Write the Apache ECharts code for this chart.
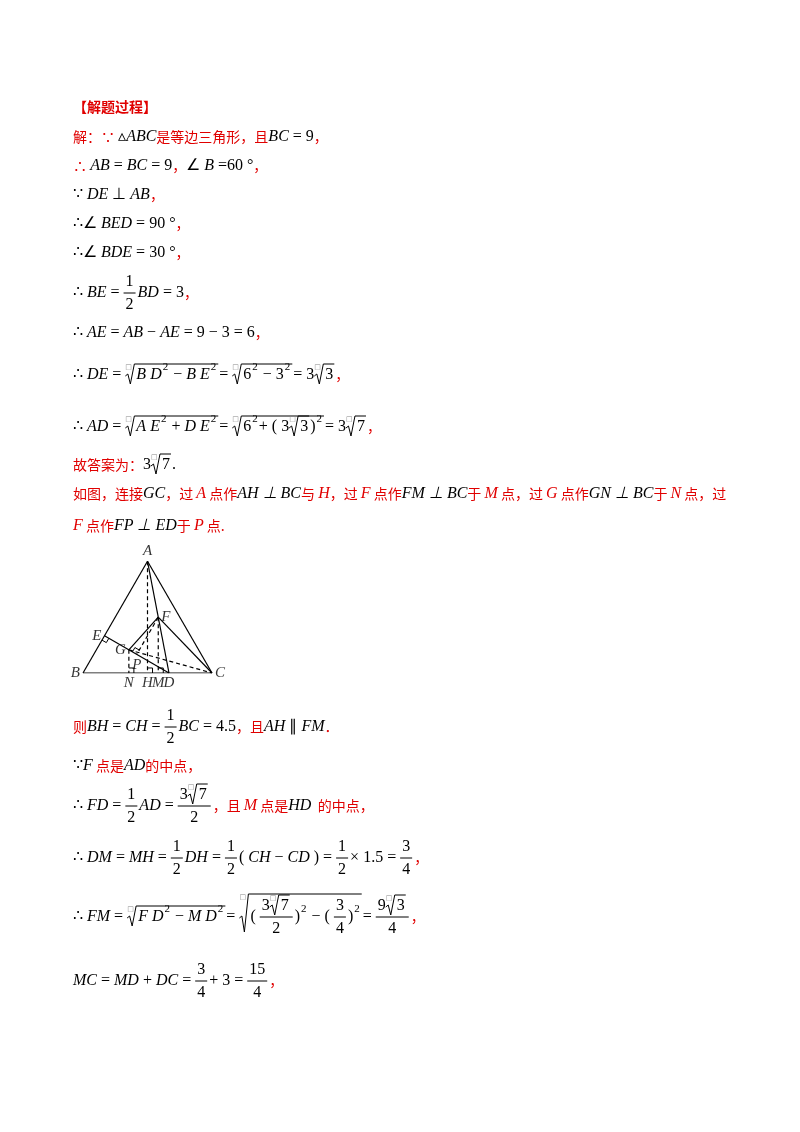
<!DOCTYPE html>
<html><head><meta charset="utf-8">
<script src="https://cdn.jsdelivr.net/npm/echarts@6/dist/echarts.min.js"></script>
<style>html,body{margin:0;background:#fff}#c{width:800px;height:1132px}</style>
</head><body><div id="c"></div>
<script>
// geometry data (units: side of triangle = 9)
const pointNames = ['A','B','C','D','E','F','G','H','M','N','P'];
const pointX = [4.5, 0, 9, 6, 1.5, 5.25, 3.2, 4.5, 5.25, 3.2, 3.75];
const pointY = [7.794, 0, 0, 0, 2.598, 3.897, 1.617, 0, 0, 0, 1.299];
const labelPos = ['top','left','right','bottom','left','right','left','bottom','bottom','bottom','bottom'];
const solidSegs = [['A','B'],['B','C'],['C','A'],['E','D'],['A','D'],['F','C'],['F','G']];
const dashedSegs = [['A','H'],['F','M'],['G','C'],['G','N'],['F','P']];
const rightAngles = [['E','D','B'],['N','G','C'],['H','A','C'],['M','F','C'],['P','F','E']];

const P = {}; pointNames.forEach((n,i)=>P[n]=[pointX[i],pointY[i]]);
const series = [];
function seg(a,b,type){series.push({type:'line',data:[P[a],P[b]],symbol:'none',silent:true,
  lineStyle:{color:'#000',width:1.2,type:type}});}
solidSegs.forEach(s=>seg(s[0],s[1],'solid'));
dashedSegs.forEach(s=>seg(s[0],s[1],[4,3]));
rightAngles.forEach(([v,a,b])=>{
  const V=P[v],s=0.35;
  const u=[P[a][0]-V[0],P[a][1]-V[1]],w=[P[b][0]-V[0],P[b][1]-V[1]];
  const lu=Math.hypot(...u),lw=Math.hypot(...w);
  const U=[u[0]/lu*s,u[1]/lu*s],W=[w[0]/lw*s,w[1]/lw*s];
  series.push({type:'line',symbol:'none',silent:true,lineStyle:{color:'#000',width:1},
    data:[[V[0]+U[0],V[1]+U[1]],[V[0]+U[0]+W[0],V[1]+U[1]+W[1]],[V[0]+W[0],V[1]+W[1]]]});
});
series.push({type:'scatter',symbolSize:0,data:pointNames.map((n,i)=>({value:[pointX[i],pointY[i]],name:n,
  label:{show:true,position:labelPos[i],formatter:n,distance:3,fontFamily:'Liberation Serif',fontStyle:'italic',fontSize:15,color:'#000'}}))});

// text layout
const ctx=document.createElement('canvas').getContext('2d');
const ST={
  m:{font:'italic 16px "Liberation Serif"',fill:'#000'},
  n:{font:'16px "Liberation Serif"',fill:'#000'},
  c:{font:'14px "Noto Sans CJK SC"',fill:'#e00000'},
  r:{font:'italic 16px "Liberation Serif"',fill:'#e00000'},
  b:{font:'bold 14px "Noto Sans CJK SC"',fill:'#e00000'},
  s:{font:'11px "Liberation Serif"',fill:'#000'}
};
const G=[];
function tw(st,t){ctx.font=ST[st].font;return ctx.measureText(t).width;}
function layout(items,x,y,draw){
  let cx=x;
  for(const it of items){
    if(Array.isArray(it)){
      const [st,t]=it;
      if(draw)G.push({type:'text',x:cx,y:y,style:{text:t,font:ST[st].font,fill:ST[st].fill,verticalAlign:'middle'}});
      cx+=tw(st,t);
    }else if(it.sup){
      if(draw)G.push({type:'text',x:cx+1,y:y-8,style:{text:it.sup,font:ST.s.font,fill:'#000',verticalAlign:'middle'}});
      cx+=tw('s',it.sup)+2;
    }else if(it.f){
      const wa=layout(it.f[0],0,0,false),wb=layout(it.f[1],0,0,false),W=Math.max(wa,wb)+4;
      if(draw){
        layout(it.f[0],cx+(W-wa)/2,y-11,true);layout(it.f[1],cx+(W-wb)/2,y+12,true);
        G.push({type:'line',shape:{x1:cx,y1:y,x2:cx+W,y2:y},style:{stroke:'#000',lineWidth:1}});
      }
      cx+=W+2;
    }else if(it.s){
      const tall=it.tall||0,wc=layout(it.s,0,0,false);
      const top=y-11-tall,bot=y+9+(tall?tall-6:0);
      if(draw){
        G.push({type:'text',x:cx,y:top+3,style:{text:'□',font:'7px "DejaVu Sans"',fill:'#888',verticalAlign:'middle'}});
        G.push({type:'polyline',shape:{points:[[cx,y+1],[cx+2.5,y-1],[cx+5,bot],[cx+9,top],[cx+12+wc,top]]},style:{stroke:'#000',lineWidth:1,fill:null}});
        layout(it.s,cx+11,y,true);
      }
      cx+=wc+13;
    }
  }
  return cx-x;
}
function L(y,items){layout(items,73,y,true);}
const half={f:[[['n','1']],[['n','2']]]};
L(107,[['b','【解题过程】']]);
L(137,[['c','解：∵ '],['n','▵'],['m','ABC'],['c','是等边三角形，且'],['m','BC'],['n',' = 9'],['c','，']]);
L(166,[['c','∴ '],['m','AB'],['n',' = '],['m','BC'],['n',' = 9'],['c','，'],['n','∠ '],['m','B'],['n',' =60 °'],['c','，']]);
L(195,[['n','∵ '],['m','DE'],['n',' ⊥ '],['m','AB'],['c','，']]);
L(224,[['n','∴∠ '],['m','BED'],['n',' = 90 °'],['c','，']]);
L(253,[['n','∴∠ '],['m','BDE'],['n',' = 30 °'],['c','，']]);
L(293,[['n','∴ '],['m','BE'],['n',' = '],half,['m','BD'],['n',' = 3'],['c','，']]);
L(333,[['n','∴ '],['m','AE'],['n',' = '],['m','AB'],['n',' − '],['m','AE'],['n',' = 9 − 3 = 6'],['c','，']]);
L(375,[['n','∴ '],['m','DE'],['n',' = '],{s:[['m','B D'],{sup:'2'},['n',' − '],['m','B E'],{sup:'2'}]},['n','= '],{s:[['n','6'],{sup:'2'},['n',' − 3'],{sup:'2'}]},['n','= 3'],{s:[['n','3']]},['c','，']]);
L(427,[['n','∴ '],['m','AD'],['n',' = '],{s:[['m','A E'],{sup:'2'},['n',' + '],['m','D E'],{sup:'2'}]},['n','= '],{s:[['n','6'],{sup:'2'},['n','+ ( 3'],{s:[['n','3']]},['n',')'],{sup:'2'}]},['n','= 3'],{s:[['n','7']]},['c','，']]);
L(465,[['c','故答案为：'],['n','3'],{s:[['n','7']]},['n','.']]);
L(494,[['c','如图，连接'],['m','GC'],['c','，过 '],['r','A'],['c',' 点作'],['m','AH ⊥ BC'],['c','与 '],['r','H'],['c','，过 '],['r','F'],['c',' 点作'],['m','FM ⊥ BC'],['c','于 '],['r','M'],['c',' 点，过 '],['r','G'],['c',' 点作'],['m','GN ⊥ BC'],['c','于 '],['r','N'],['c',' 点，过']]);
L(526,[['r','F'],['c',' 点作'],['m','FP ⊥ ED'],['c','于 '],['r','P'],['c',' 点.']]);
L(727,[['c','则'],['m','BH'],['n',' = '],['m','CH'],['n',' = '],half,['m','BC'],['n',' = 4.5'],['c','，且'],['m','AH'],['n',' ∥ '],['m','FM'],['c','．']]);
L(766,[['n','∵'],['m','F'],['c',' 点是'],['m','AD'],['c','的中点，']]);
L(806,[['n','∴ '],['m','FD'],['n',' = '],half,['m','AD'],['n',' = '],{f:[[['n','3'],{s:[['n','7']]}],[['n','2']]]},['c','，且 '],['r','M'],['c',' 点是'],['m','HD'],['c','  的中点，']]);
L(858,[['n','∴ '],['m','DM'],['n',' = '],['m','MH'],['n',' = '],half,['m','DH'],['n',' = '],half,['n','( '],['m','CH'],['n',' − '],['m','CD'],['n',' ) = '],half,['n','× 1.5 = '],{f:[[['n','3']],[['n','4']]]},['c','，']]);
L(917,[['n','∴ '],['m','FM'],['n',' = '],{s:[['m','F D'],{sup:'2'},['n',' − '],['m','M D'],{sup:'2'}]},['n','= '],{tall:12,s:[['n','( '],{f:[[['n','3'],{s:[['n','7']]}],[['n','2']]]},['n',')'],{sup:'2'},['n',' − ( '],{f:[[['n','3']],[['n','4']]]},['n',')'],{sup:'2'}]},['n','= '],{f:[[['n','9'],{s:[['n','3']]}],[['n','4']]]},['c','，']]);
L(981,[['m','MC'],['n',' = '],['m','MD'],['n',' + '],['m','DC'],['n',' = '],{f:[[['n','3']],[['n','4']]]},['n','+ 3 = '],{f:[[['n','15']],[['n','4']]]},['c','，']]);

const chart=echarts.init(document.getElementById('c'));
chart.setOption({
  animation:false,
  grid:{left:83,top:561.3,width:129,height:111.7},
  xAxis:{type:'value',min:0,max:9,show:false},
  yAxis:{type:'value',min:0,max:7.794,show:false},
  series:series,
  graphic:G
});
</script></body></html>
